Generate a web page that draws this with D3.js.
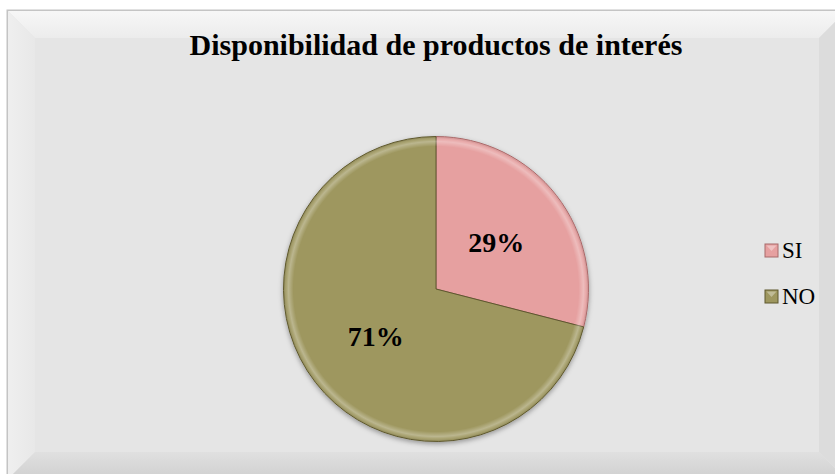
<!DOCTYPE html>
<html lang="es">
<head>
<meta charset="UTF-8">
<title>Disponibilidad de productos de interés</title>
<style>
  body { margin: 0; background: #fff; }
  svg { display: block; }
</style>
</head>
<body>
<script src="https://d3js.org/d3.v7.min.js"></script>
<script>
  const categories = ['SI', 'NO'];
  const values = [29, 71];
  const colors = ['#E6A0A0', '#9E975F'];
  const edgeColors = ['#A86A6A', '#5E582E'];
  const title = 'Disponibilidad de productos de interés';

  const W = 835, H = 474;
  const svg = d3.select('body').append('svg')
    .attr('width', W)
    .attr('height', H);

  const defs = svg.append('defs');

  // frame bevel gradients
  const gTop = defs.append('linearGradient').attr('id', 'gTop').attr('x1', 0).attr('y1', 0).attr('x2', 0).attr('y2', 1);
  gTop.append('stop').attr('offset', 0).attr('stop-color', '#f7f7f7');
  gTop.append('stop').attr('offset', 1).attr('stop-color', '#ececec');
  const gBot = defs.append('linearGradient').attr('id', 'gBot').attr('x1', 0).attr('y1', 0).attr('x2', 0).attr('y2', 1);
  gBot.append('stop').attr('offset', 0).attr('stop-color', '#e0e0e0');
  gBot.append('stop').attr('offset', 1).attr('stop-color', '#cfcfcf');
  const gLeft = defs.append('linearGradient').attr('id', 'gLeft').attr('x1', 0).attr('y1', 0).attr('x2', 1).attr('y2', 0);
  gLeft.append('stop').attr('offset', 0).attr('stop-color', '#efefef');
  gLeft.append('stop').attr('offset', 1).attr('stop-color', '#e8e8e8');

  const shadow = defs.append('filter').attr('id', 'shadow')
    .attr('x', '-20%').attr('y', '-20%').attr('width', '140%').attr('height', '140%');
  shadow.append('feDropShadow').attr('dx', 0).attr('dy', 2).attr('stdDeviation', 2.5)
    .attr('flood-color', '#000').attr('flood-opacity', 0.35);

  // frame
  const fx = 7, fy = 10, fw = 840, fh = 470, b = 28;
  const frame = svg.append('g');
  frame.append('rect').attr('x', fx).attr('y', fy).attr('width', fw).attr('height', fh)
    .attr('fill', '#e5e5e5').attr('stroke', '#c4c4c4');
  frame.append('path')
    .attr('d', `M${fx},${fy}L${fx + fw},${fy}L${fx + fw - b},${fy + b}L${fx + b},${fy + b}Z`)
    .attr('fill', 'url(#gTop)');
  frame.append('path')
    .attr('d', `M${fx},${fy}L${fx + b},${fy + b}L${fx + b},${fy + fh - b}L${fx},${fy + fh}Z`)
    .attr('fill', 'url(#gLeft)');
  frame.append('path')
    .attr('d', `M${fx},${fy + fh}L${fx + b},${fy + fh - b}L${fx + fw - b},${fy + fh - b}L${fx + fw},${fy + fh}Z`)
    .attr('fill', 'url(#gBot)');
  frame.append('path')
    .attr('d', `M${fx + fw},${fy}L${fx + fw - b},${fy + b}L${fx + fw - b},${fy + fh - b}L${fx + fw},${fy + fh}Z`)
    .attr('fill', '#dcdcdc');
  frame.append('rect').attr('x', fx + 0.5).attr('y', fy + 0.5).attr('width', fw).attr('height', fh)
    .attr('fill', 'none').attr('stroke', '#c4c4c4');

  // title
  svg.append('text')
    .attr('x', 436).attr('y', 55)
    .attr('text-anchor', 'middle')
    .attr('font-family', '"Liberation Serif", "Times New Roman", serif')
    .attr('font-weight', 'bold')
    .attr('font-size', 30)
    .text(title);

  // pie
  const cx = 436, cy = 289, r = 152.5;
  const data = categories.map((c, i) => ({ cat: c, value: values[i], i }));
  const pie = d3.pie().sort(null).value(d => d.value);
  const arcs = pie(data);
  const arc = d3.arc().innerRadius(0).outerRadius(r);
  const rim = d3.arc().innerRadius(r - 10).outerRadius(r - 1);
  const labelArc = d3.arc().innerRadius(r * 0.5).outerRadius(r * 0.5);

  const g = svg.append('g').attr('transform', `translate(${cx},${cy})`);

  g.append('g').attr('filter', 'url(#shadow)')
    .selectAll('path').data(arcs).enter().append('path')
    .attr('d', arc)
    .attr('fill', d => colors[d.data.i])
    .attr('stroke', d => edgeColors[d.data.i])
    .attr('stroke-width', 1);

  // bevel highlight along the rim
  data.forEach((d, i) => {
    const rg = defs.append('radialGradient').attr('id', 'rim' + i)
      .attr('gradientUnits', 'userSpaceOnUse')
      .attr('cx', 0).attr('cy', 0).attr('r', r);
    rg.append('stop').attr('offset', (r - 10) / r).attr('stop-color', '#ffffff').attr('stop-opacity', 0);
    rg.append('stop').attr('offset', (r - 5) / r).attr('stop-color', '#ffffff').attr('stop-opacity', 0.3);
    rg.append('stop').attr('offset', (r - 2.5) / r).attr('stop-color', '#ffffff').attr('stop-opacity', 0.1);
    rg.append('stop').attr('offset', 1).attr('stop-color', '#000000').attr('stop-opacity', 0.25);
  });
  g.selectAll('path.rim').data(arcs).enter().append('path')
    .attr('class', 'rim')
    .attr('d', rim)
    .attr('fill', d => `url(#rim${d.data.i})`);

  const total = d3.sum(values);
  g.selectAll('text.lbl').data(arcs).enter().append('text')
    .attr('class', 'lbl')
    .attr('transform', d => {
      const [x, y] = labelArc.centroid(d);
      return `translate(${x},${y})`;
    })
    .attr('text-anchor', 'middle')
    .attr('dy', '0.35em')
    .attr('font-family', '"Liberation Serif", "Times New Roman", serif')
    .attr('font-weight', 'bold')
    .attr('font-size', 28)
    .text(d => Math.round(d.data.value / total * 100) + '%');

  // legend
  const legend = svg.append('g').attr('transform', 'translate(765,244)');
  const item = legend.selectAll('g').data(data).enter().append('g')
    .attr('transform', (d, i) => `translate(0,${i * 46})`);
  item.append('rect')
    .attr('width', 13).attr('height', 13)
    .attr('fill', d => colors[d.i])
    .attr('stroke', d => edgeColors[d.i]);
  item.append('path')
    .attr('d', 'M1.5,1.5L11.5,1.5L6.5,7Z')
    .attr('fill', '#ffffff').attr('opacity', 0.35);
  item.append('text')
    .attr('x', 17).attr('y', 14)
    .attr('font-family', '"Liberation Serif", "Times New Roman", serif')
    .attr('font-size', 23)
    .text(d => d.cat);
</script>
</body>
</html>
